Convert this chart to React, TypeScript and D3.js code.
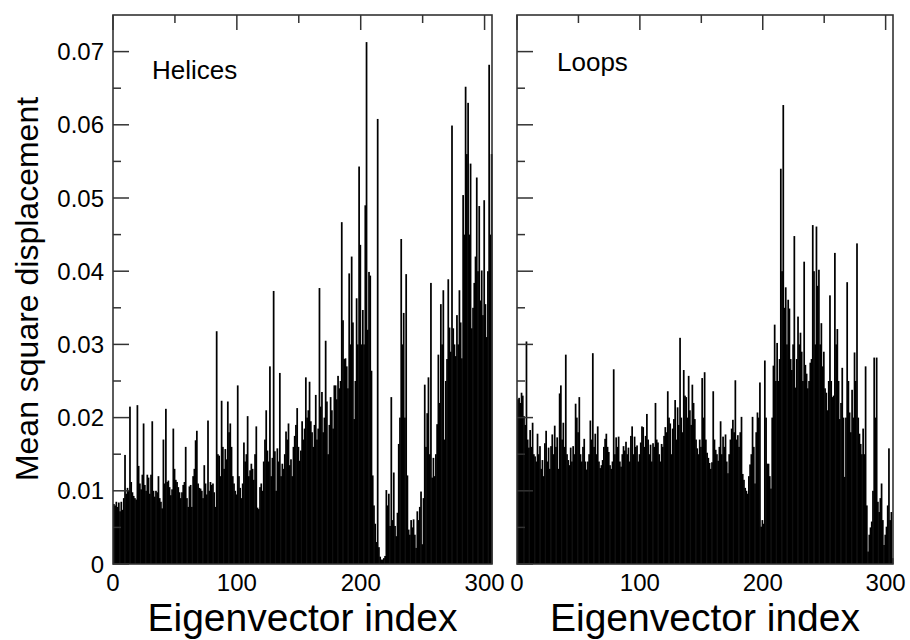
import React from 'react';
import * as d3 from 'd3';

const xTickValues = [0, 100, 200, 300];
const xMinorValues = [50, 150, 250];
const yTickValues = [0, 0.01, 0.02, 0.03, 0.04, 0.05, 0.06, 0.07];
const yTickLabels = ['0', '0.01', '0.02', '0.03', '0.04', '0.05', '0.06', '0.07'];
const yMinorValues = [0.005, 0.015, 0.025, 0.035, 0.045, 0.055, 0.065];

const helices = [
  0.0082,0.0080,0.0085,0.0078,0.0084,0.0072,0.0085,0.0074,0.0090,0.0149,
  0.0096,0.0104,0.0100,0.0215,0.0112,0.0098,0.0093,0.0090,0.0088,0.0217,
  0.0134,0.0110,0.0102,0.0122,0.0192,0.0108,0.0100,0.0122,0.0118,0.0096,
  0.0122,0.0195,0.0100,0.0092,0.0100,0.0098,0.0120,0.0090,0.0085,0.0076,
  0.0170,0.0110,0.0212,0.0112,0.0114,0.0105,0.0094,0.0102,0.0185,0.0130,
  0.0115,0.0112,0.0105,0.0098,0.0090,0.0098,0.0108,0.0112,0.0160,0.0090,
  0.0078,0.0106,0.0108,0.0078,0.0120,0.0130,0.0169,0.0182,0.0110,0.0104,
  0.0103,0.0100,0.0090,0.0135,0.0110,0.0095,0.0196,0.0100,0.0112,0.0108,
  0.0110,0.0098,0.0078,0.0318,0.0150,0.0148,0.0120,0.0223,0.0160,0.0130,
  0.0157,0.0143,0.0222,0.0180,0.0192,0.0160,0.0120,0.0110,0.0100,0.0095,
  0.0244,0.0120,0.0104,0.0090,0.0110,0.0166,0.0140,0.0150,0.0202,0.0120,
  0.0128,0.0137,0.0130,0.0115,0.0150,0.0188,0.0077,0.0075,0.0105,0.0110,
  0.0100,0.0140,0.0170,0.0210,0.0155,0.0140,0.0270,0.0120,0.0145,0.0373,
  0.0154,0.0100,0.0158,0.0140,0.0261,0.0120,0.0137,0.0130,0.0150,0.0181,
  0.0170,0.0192,0.0135,0.0143,0.0120,0.0160,0.0175,0.0190,0.0213,0.0160,
  0.0141,0.0155,0.0195,0.0170,0.0185,0.0255,0.0200,0.0210,0.0249,0.0195,
  0.0180,0.0160,0.0190,0.0231,0.0170,0.0185,0.0377,0.0215,0.0235,0.0180,
  0.0200,0.0305,0.0222,0.0150,0.0190,0.0228,0.0210,0.0185,0.0244,0.0244,
  0.0225,0.0257,0.0240,0.0250,0.0467,0.0333,0.0280,0.0281,0.0270,0.0240,
  0.0397,0.0300,0.0420,0.0330,0.0198,0.0250,0.0363,0.0300,0.0543,0.0436,
  0.0300,0.0347,0.0300,0.0490,0.0713,0.0320,0.0399,0.0394,0.0264,0.0121,
  0.0080,0.0055,0.0030,0.0608,0.0023,0.0010,0.0006,0.0006,0.0008,0.0011,
  0.0101,0.0080,0.0096,0.0052,0.0228,0.0060,0.0125,0.0052,0.0038,0.0070,
  0.0164,0.0200,0.0444,0.0300,0.0343,0.0200,0.0396,0.0121,0.0047,0.0040,
  0.0060,0.0050,0.0061,0.0040,0.0022,0.0072,0.0060,0.0078,0.0099,0.0027,
  0.0090,0.0245,0.0160,0.0206,0.0255,0.0150,0.0384,0.0118,0.0145,0.0120,
  0.0150,0.0191,0.0286,0.0220,0.0355,0.0300,0.0374,0.0170,0.0250,0.0280,
  0.0389,0.0323,0.0290,0.0599,0.0322,0.0300,0.0284,0.0340,0.0300,0.0374,
  0.0330,0.0281,0.0504,0.0450,0.0652,0.0560,0.0630,0.0450,0.0547,0.0322,
  0.0350,0.0384,0.0420,0.0528,0.0400,0.0489,0.0360,0.0401,0.0340,0.0497,
  0.0355,0.0310,0.0400,0.0682,0.0450,0.0560,
];

const loops = [
  0.0225,0.0227,0.0220,0.0234,0.0230,0.0202,0.0190,0.0304,0.0170,0.0159,
  0.0183,0.0160,0.0193,0.0150,0.0147,0.0140,0.0178,0.0150,0.0161,0.0130,
  0.0142,0.0120,0.0165,0.0182,0.0140,0.0159,0.0130,0.0161,0.0177,0.0150,
  0.0189,0.0160,0.0173,0.0130,0.0233,0.0244,0.0170,0.0193,0.0160,0.0286,
  0.0150,0.0142,0.0135,0.0159,0.0140,0.0161,0.0150,0.0219,0.0200,0.0180,
  0.0228,0.0150,0.0140,0.0160,0.0171,0.0140,0.0129,0.0140,0.0150,0.0196,
  0.0170,0.0288,0.0160,0.0178,0.0150,0.0188,0.0140,0.0131,0.0135,0.0142,
  0.0160,0.0171,0.0178,0.0160,0.0153,0.0135,0.0130,0.0140,0.0266,0.0150,
  0.0173,0.0160,0.0174,0.0140,0.0133,0.0150,0.0161,0.0155,0.0167,0.0150,
  0.0159,0.0140,0.0175,0.0188,0.0150,0.0174,0.0160,0.0162,0.0140,0.0150,
  0.0166,0.0188,0.0187,0.0160,0.0175,0.0205,0.0170,0.0150,0.0163,0.0140,
  0.0165,0.0160,0.0220,0.0170,0.0166,0.0150,0.0140,0.0164,0.0160,0.0175,
  0.0187,0.0180,0.0236,0.0200,0.0192,0.0150,0.0185,0.0198,0.0224,0.0170,
  0.0214,0.0190,0.0309,0.0200,0.0180,0.0265,0.0230,0.0228,0.0200,0.0257,
  0.0210,0.0190,0.0245,0.0220,0.0198,0.0170,0.0158,0.0150,0.0170,0.0160,
  0.0254,0.0200,0.0262,0.0170,0.0152,0.0145,0.0138,0.0130,0.0139,0.0236,
  0.0170,0.0156,0.0150,0.0141,0.0160,0.0195,0.0150,0.0174,0.0160,0.0177,
  0.0140,0.0124,0.0150,0.0170,0.0185,0.0197,0.0180,0.0251,0.0170,0.0176,
  0.0160,0.0180,0.0201,0.0123,0.0115,0.0104,0.0100,0.0096,0.0120,0.0136,
  0.0150,0.0201,0.0160,0.0110,0.0180,0.0207,0.0200,0.0248,0.0051,0.0060,
  0.0055,0.0278,0.0200,0.0137,0.0137,0.0120,0.0103,0.0200,0.0271,0.0327,
  0.0250,0.0302,0.0250,0.0280,0.0540,0.0400,0.0627,0.0350,0.0378,0.0300,
  0.0361,0.0349,0.0280,0.0265,0.0300,0.0448,0.0241,0.0280,0.0338,0.0300,
  0.0316,0.0290,0.0250,0.0413,0.0272,0.0260,0.0240,0.0250,0.0275,0.0280,
  0.0463,0.0400,0.0300,0.0461,0.0380,0.0402,0.0300,0.0329,0.0270,0.0290,
  0.0240,0.0234,0.0210,0.0250,0.0367,0.0250,0.0228,0.0230,0.0425,0.0300,
  0.0321,0.0250,0.0198,0.0220,0.0268,0.0200,0.0119,0.0200,0.0385,0.0250,
  0.0207,0.0180,0.0238,0.0200,0.0289,0.0250,0.0438,0.0200,0.0178,0.0164,
  0.0150,0.0185,0.0150,0.0270,0.0080,0.0017,0.0040,0.0050,0.0058,0.0100,
  0.0282,0.0200,0.0282,0.0085,0.0071,0.0090,0.0110,0.0060,0.0026,0.0040,
  0.0051,0.0080,0.0158,0.0060,0.0071,0.0008,
];

const W = 910;
const H = 640;
const TOP = 15;
const BOTTOM = 564;
const FONT = '"Liberation Sans", Arial, Helvetica, sans-serif';
const FRAME = '#333';

const panels = [
  { name: 'Helices', data: helices, x0: 113, x1: 492, showY: true, lx: 152, ly: 79 },
  { name: 'Loops', data: loops, x0: 517, x1: 893, showY: false, lx: 557, ly: 71 },
];

function Panel({ p }: { p: typeof panels[number] }) {
  const x = d3.scaleLinear().domain([0, 306]).range([p.x0, p.x1]);
  const y = d3.scaleLinear().domain([0, 0.075]).range([BOTTOM, TOP]);
  return (
    <g>
      {p.data.map((v, i) => (
        <rect key={i} x={x(i)} width={x(i + 1) - x(i) + 0.5} y={y(v)} height={y(0) - y(v)} fill="#000" />
      ))}
      <rect x={p.x0} y={TOP} width={p.x1 - p.x0} height={BOTTOM - TOP} fill="none" stroke={FRAME} strokeWidth={1.6} />
      {yTickValues.map((t) => (
        <line key={'yt' + t} x1={p.x0} x2={p.x0 + 16} y1={y(t)} y2={y(t)} stroke={FRAME} strokeWidth={1.5} />
      ))}
      {yMinorValues.map((t) => (
        <line key={'ym' + t} x1={p.x0} x2={p.x0 + 8} y1={y(t)} y2={y(t)} stroke={FRAME} strokeWidth={1.5} />
      ))}
      {xTickValues.map((t) => (
        <line key={'xt' + t} x1={x(t)} x2={x(t)} y1={TOP} y2={TOP + 15} stroke={FRAME} strokeWidth={1.5} />
      ))}
      {xMinorValues.map((t) => (
        <line key={'xm' + t} x1={x(t)} x2={x(t)} y1={TOP} y2={TOP + 8} stroke={FRAME} strokeWidth={1.5} />
      ))}
      {xTickValues.map((t) => (
        <text key={'xl' + t} x={x(t)} y={591} textAnchor="middle" fontSize={24} fontFamily={FONT} fill="#000">
          {String(t)}
        </text>
      ))}
      {p.showY &&
        yTickValues.map((t, i) => (
          <text key={'yl' + t} x={p.x0 - 9} y={y(t) + 8.5} textAnchor="end" fontSize={24} fontFamily={FONT} fill="#000">
            {yTickLabels[i]}
          </text>
        ))}
      <text x={p.lx} y={p.ly} fontSize={26} fontFamily={FONT} fill="#000">
        {p.name}
      </text>
      <text x={(p.x0 + p.x1) / 2} y={631} textAnchor="middle" fontSize={39} fontFamily={FONT} fill="#000">
        Eigenvector index
      </text>
    </g>
  );
}

export default function App() {
  return (
    <svg width={W} height={H} style={{ position: 'absolute', left: 0, top: 0, background: '#fff' }}>
      <rect x={0} y={0} width={W} height={H} fill="#fff" />
      {panels.map((p) => (
        <Panel key={p.name} p={p} />
      ))}
      <text
        transform={`translate(38, 289) rotate(-90)`}
        textAnchor="middle"
        fontSize={32}
        fontFamily={FONT}
        fill="#000"
      >
        Mean square displacement
      </text>
    </svg>
  );
}
